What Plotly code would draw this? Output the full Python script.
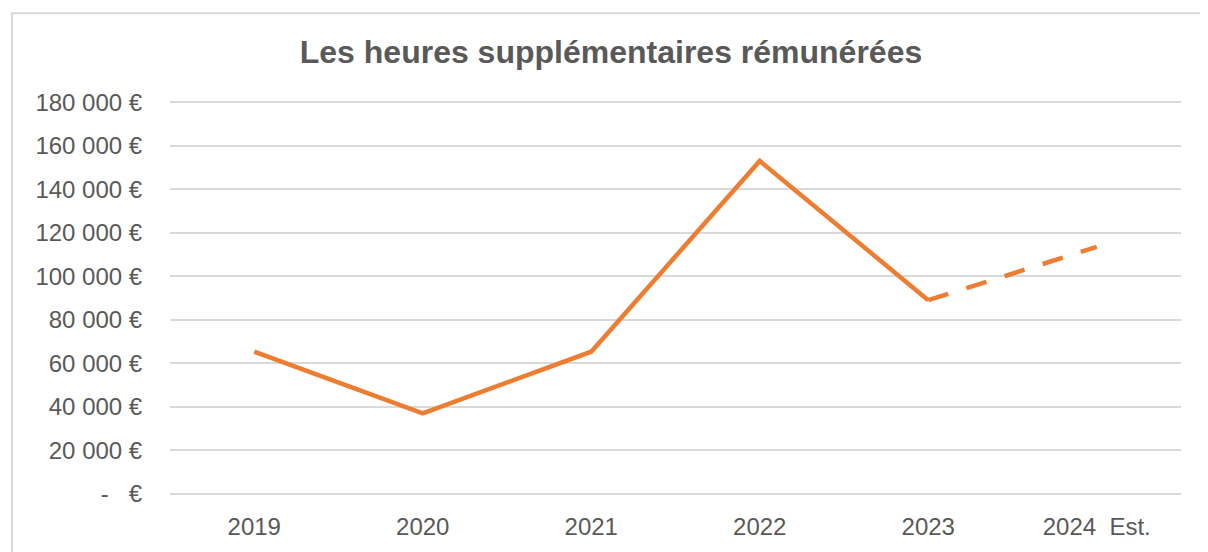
import plotly.graph_objects as go

years = ["2019", "2020", "2021", "2022", "2023", "2024\u00a0\u00a0Est."]
values = [65300, 37000, 65300, 153000, 89000, 113500]
estimated = [False, False, False, False, False, True]

tick_vals = [0, 20000, 40000, 60000, 80000, 100000, 120000, 140000, 160000, 180000]
tick_text = ["-\u00a0\u00a0\u00a0€", "20 000 €", "40 000 €", "60 000 €", "80 000 €",
             "100 000 €", "120 000 €", "140 000 €", "160 000 €", "180 000 €"]

title_text = "Les heures supplémentaires rémunérées"
color = "#ED7D31"
text_color = "#595959"
grid_color = "#D9D9D9"

first_est = estimated.index(True)
solid_y = [v if i < first_est else None for i, v in enumerate(values)]
dash_y = [v if i >= first_est - 1 else None for i, v in enumerate(values)]

fig = go.Figure()
fig.add_trace(go.Scatter(x=years, y=solid_y, mode="lines",
                         line=dict(color=color, width=4.5), connectgaps=False,
                         showlegend=False, hoverinfo="skip"))
fig.add_trace(go.Scatter(x=years, y=dash_y, mode="lines",
                         line=dict(color=color, width=4.5, dash="21px,19px"),
                         connectgaps=False, showlegend=False, hoverinfo="skip"))

# page body has an 8px margin: the figure's origin sits at (8, 8) on screen
OFF = 8
W, H = 1200, 544
ypad = 1500
px_per = 394 / 180000
pw = 1011
ph = round(394 + 2 * ypad * px_per)
L = 170 - OFF
T = round(102 - OFF - ypad * px_per)
R, B = W - L - pw, H - T - ph

fig.update_layout(
    width=W, height=H,
    margin=dict(l=L, r=R, t=T, b=B, pad=0),
    paper_bgcolor="white", plot_bgcolor="white",
    font=dict(family="Liberation Sans, Arial, sans-serif", size=24, color=text_color),
    title=dict(text="<b>" + title_text + "</b>", x=(611 - OFF) / W, xanchor="center",
               y=1 - (52 - OFF) / H, yanchor="middle", yref="container",
               font=dict(size=32, color=text_color)),
    xaxis=dict(type="category", showgrid=False, zeroline=False, showline=False,
               ticks="outside", ticklen=0, tickcolor="rgba(0,0,0,0)",
               ticklabelstandoff=8, range=[-0.5, len(years) - 0.5],
               tickfont=dict(size=24, color=text_color)),
    yaxis=dict(range=[-ypad, 180000 + ypad], tickvals=tick_vals, ticktext=tick_text,
               showgrid=True, gridcolor=grid_color, gridwidth=1.5,
               zeroline=False, showline=False, ticks="outside", ticklen=0,
               tickcolor="rgba(0,0,0,0)", ticklabelstandoff=22,
               tickfont=dict(size=24, color=text_color)),
    shapes=[dict(type="rect", xref="paper", yref="paper",
                 x0=(12 - OFF - L) / pw, x1=(W + 40 - L) / pw,
                 y0=-(60 + B) / ph, y1=(T + ph - (12.5 - OFF)) / ph,
                 line=dict(color=grid_color, width=2), layer="below")],
)

fig.write_html("out.html")
